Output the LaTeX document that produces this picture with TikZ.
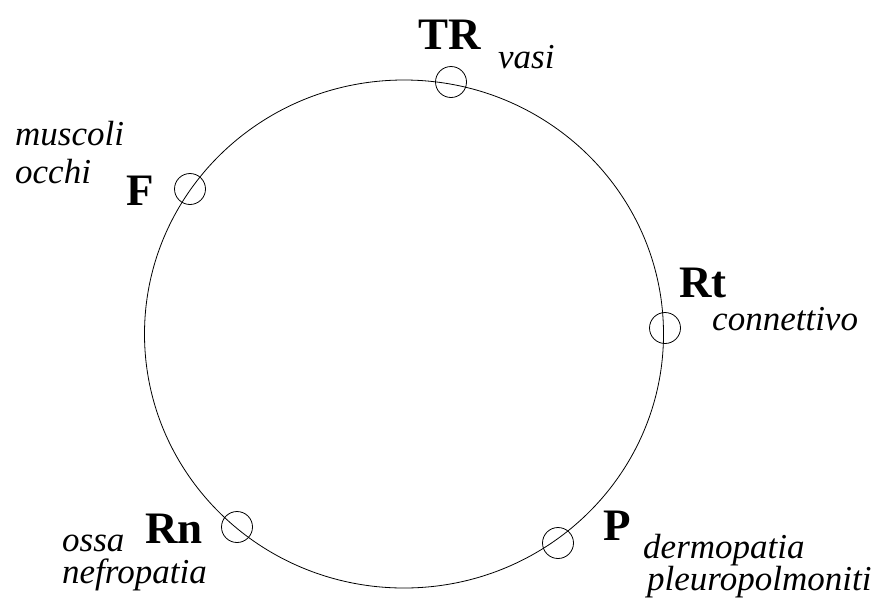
\documentclass[tikz,border=0pt]{standalone}
\usepackage{fontspec}
\setmainfont{Liberation Serif}
\begin{document}
\begin{tikzpicture}[x=1pt, y=-1pt,
  ring/.style={circle, draw, line width=0.8pt, minimum size=31pt, inner sep=0pt},
  sigla/.style={inner sep=0pt, anchor=base, font=\fontsize{45}{50}\selectfont\bfseries},
  organo/.style={inner sep=0pt, anchor=base west, font=\fontsize{35}{38}\selectfont\itshape}]
\useasboundingbox (0,0) rectangle (882,598);
\draw[line width=0.8pt] (404,334) ellipse [x radius=259.5pt, y radius=254pt];
% tappe sul cerchio
\node[ring] (tr) at (451,82) {};
\node[ring] (f) at (190,189) {};
\node[ring] (rt) at (665,328) {};
\node[ring] (p) at (558,543) {};
\node[ring] (rn) at (237,527) {};
% sigle
\node[sigla] (trlab) at (450,49) {TR};
\node[sigla] (flab) at (140,205) {F};
\node[sigla] (rtlab) at (703,297) {Rt};
\node[sigla] (plab) at (617,540) {P};
\node[sigla] (rnlab) at (174,543) {Rn};
% organi
\node[organo] (vasi) at (498,68) {vasi};
\node[organo] (muscoli) at (15,145) {muscoli};
\node[organo] (occhi) at (15,183) {occhi};
\node[organo] (conn) at (712,330) {connettivo};
\node[organo] (derm) at (643,558) {dermopatia};
\node[organo] (pleuro) at (647,590) {pleuropolmoniti};
\node[organo] (ossa) at (62,551) {ossa};
\node[organo] (nefro) at (62,583) {nefropatia};
\end{tikzpicture}
\end{document}
